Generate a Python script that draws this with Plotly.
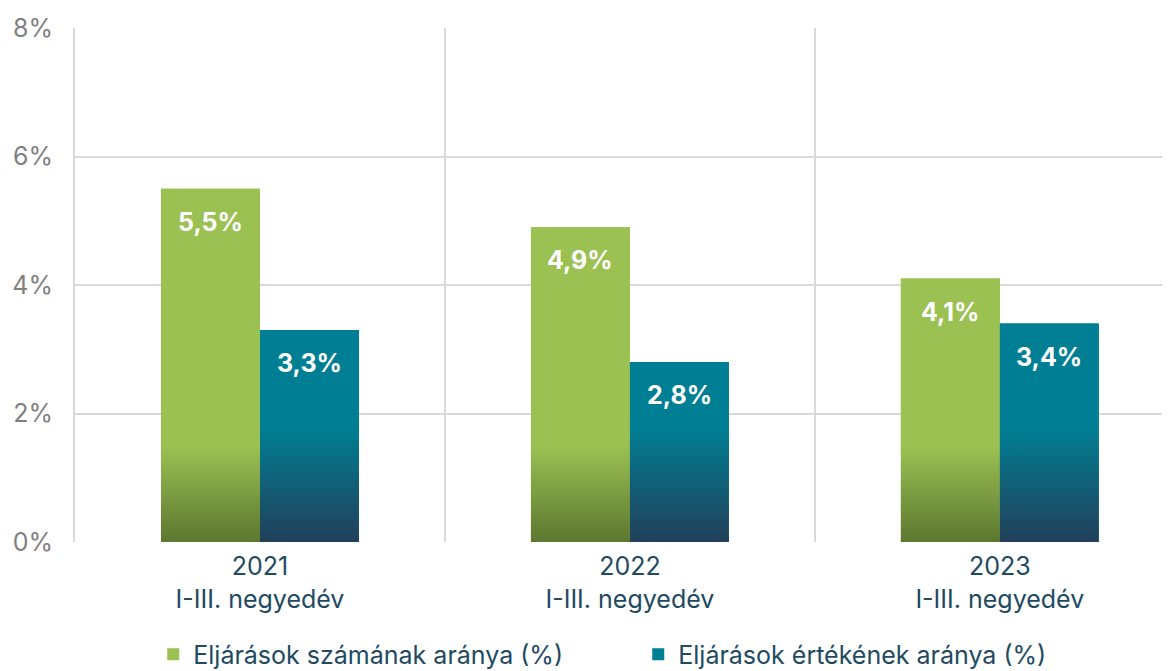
import plotly.graph_objects as go

categories = ["2021<br>I-III. negyedév", "2022<br>I-III. negyedév", "2023<br>I-III. negyedév"]
series_names = ["Eljárások számának aránya (%)", "Eljárások értékének aránya (%)"]
count_share = [5.5, 4.9, 4.1]
value_share = [3.3, 2.8, 3.4]
y_ticks = [0, 2, 4, 6, 8]

colors = ["#9BC153", "#007F94"]
dark_colors = ["#5C772F", "#22405A"]
grad_stop = [1.5, 1.8]

FONT = "Inter, 'Open Sans', sans-serif"
bargap = 0.465
bar_w = (1 - bargap) / 2
xs = list(range(len(categories)))

fig = go.Figure()
series = [count_share, value_share]
for k, vals in enumerate(series):
    fig.add_trace(go.Bar(
        x=xs, y=vals, name=series_names[k], marker_color=colors[k],
        marker_line_width=0, hoverinfo="skip",
    ))

# gradient overlays derived from bar values
for k, vals in enumerate(series):
    px, py = [], []
    for i, v in zip(xs, vals):
        x0 = i - bar_w if k == 0 else i
        x1 = x0 + bar_w
        px += [x0, x1, x1, x0, x0, None]
        py += [0, 0, v, v, 0, None]
    fig.add_trace(go.Scatter(
        x=px, y=py, mode="lines", fill="toself", line=dict(width=0),
        fillgradient=dict(type="vertical", start=0, stop=grad_stop[k],
                          colorscale=[[0, dark_colors[k]], [1, colors[k]]]),
        showlegend=False, hoverinfo="skip",
    ))

for k, vals in enumerate(series):
    for i, v in zip(xs, vals):
        xc = i - bar_w / 2 if k == 0 else i + bar_w / 2
        fig.add_annotation(
            x=xc, y=v, text=f"{v:.1f}%".replace(".", ","), showarrow=False,
            yanchor="middle", yshift=-33,
            font=dict(family=FONT, size=25, color="white", weight="bold"),
        )

fig.update_layout(
    width=1162, height=663,
    margin=dict(l=67, r=0, t=20, b=129, autoexpand=False),
    paper_bgcolor="white", plot_bgcolor="white",
    barmode="group", bargap=bargap, bargroupgap=0,
    font=dict(family=FONT, size=25, color="#214A62"),
    showlegend=True,
    legend=dict(orientation="h", xref="container", x=0.125, xanchor="left",
                yref="container", y=0.025, yanchor="middle",
                font=dict(family=FONT, size=25, color="#214A62"),
                entrywidth=440, entrywidthmode="pixels",
                itemsizing="constant", tracegroupgap=0),
    xaxis=dict(
        range=[-0.5, 2.46], tickmode="array", tickvals=xs, ticktext=categories,
        showgrid=False, zeroline=False, showline=False, ticks="", automargin=False,
        ticklabelstandoff=7,
        tickfont=dict(family=FONT, size=25, color="#214A62"),
        minor=dict(tickmode="array", tickvals=[0.5, 1.5, 2.5], showgrid=True,
                   gridcolor="#D9D9D9", gridwidth=2, ticks=""),
    ),
    yaxis=dict(
        range=[0, 8], tickmode="array", tickvals=y_ticks,
        ticktext=[f"{t}%" for t in y_ticks], automargin=False,
        showgrid=True, gridcolor="#D9D9D9", gridwidth=2, zeroline=False,
        showline=True, linecolor="#D9D9D9", linewidth=2, ticks="", ticklabelstandoff=15,
        tickfont=dict(family=FONT, size=25, color="#7F7F7F"),
    ),
)

fig.write_html("out.html")
